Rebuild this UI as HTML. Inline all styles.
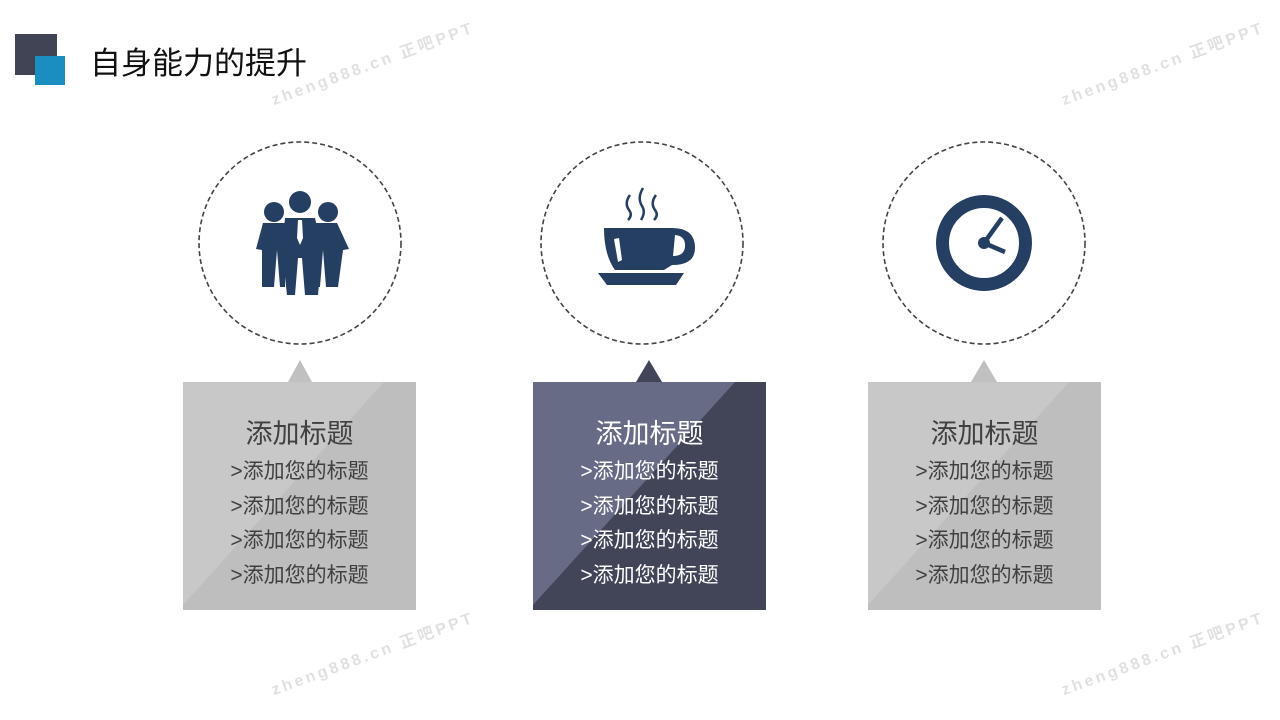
<!DOCTYPE html>
<html><head><meta charset="utf-8"><style>
body{margin:0;width:1280px;height:720px;background:#fff;position:relative;overflow:hidden;font-family:"Liberation Sans","Noto Sans CJK SC",sans-serif}
.t{position:absolute;font-size:31px;color:#111;left:90px;top:44px;line-height:40px}
.box{position:absolute;top:382px;width:233px;height:228px;text-align:center}
.txt{position:absolute;left:0;width:233px;top:0;text-align:center}
.txt .a{font-size:27px;line-height:34px;margin-top:35px;margin-bottom:4px}
.txt .b{font-size:21px;line-height:34.5px}
.wm{position:absolute;color:rgba(0,0,0,0.12);font-size:16px;font-weight:bold;letter-spacing:3px;transform:rotate(-20deg);white-space:nowrap}
</style></head><body>
<div style="position:absolute;left:15px;top:34px;width:42px;height:41px;background:#414455"></div>
<div style="position:absolute;left:35px;top:56px;width:30px;height:29px;background:#1A8EC0"></div>
<div class="t">自身能力的提升</div>
<div class="wm" style="left:265px;top:50px">zheng888.cn 正吧PPT</div>
<div class="wm" style="left:1055px;top:50px">zheng888.cn 正吧PPT</div>
<div class="wm" style="left:265px;top:640px">zheng888.cn 正吧PPT</div>
<div class="wm" style="left:1055px;top:640px">zheng888.cn 正吧PPT</div>

<svg width="1280" height="720" style="position:absolute;left:0;top:0">
<g fill="none" stroke="#444" stroke-width="1.6" stroke-dasharray="5,3">
<circle cx="300" cy="243" r="101"/><circle cx="642" cy="243" r="101"/><circle cx="984" cy="243" r="101"/>
</g>
<polygon points="300,360 288,382 312,382" fill="#C0C0C0"/>
<polygon points="649,360 636,382 662,382" fill="#424558"/>
<polygon points="984,360 971,382 997,382" fill="#C0C0C0"/>
<rect x="183" y="382" width="233" height="228" fill="#C8C8C8"/>
<polygon points="384,382 416,382 416,610 183,610 183,605" fill="#BEBEBE"/>
<rect x="533" y="382" width="233" height="228" fill="#676B86"/>
<polygon points="735,382 766,382 766,610 533,610 533,605" fill="#424558"/>
<rect x="868" y="382" width="233" height="228" fill="#C8C8C8"/>
<polygon points="1069,382 1101,382 1101,610 868,610 868,605" fill="#BEBEBE"/>
<g fill="#253F62">
<circle cx="274" cy="212" r="10"/><circle cx="328" cy="212" r="10"/><circle cx="300" cy="202" r="11"/>
<polygon points="263,223 285,223 285,287 280,287 277,250 274,287 262,287 262,250 256,249"/>
<polygon points="315,223 337,223 349,249 343,250 338,287 326,287 323,250 320,287 315,287"/>
<polygon points="285,218 315,218 322,250 318,295 305,295 302,258 298,258 295,295 287,295 282,250"/>
</g>
<polygon points="298,220 302,220 303,238 300,245 297,238" fill="#fff"/>
<g fill="#253F62">
<path d="M604,228 L672,228 Q695,228 695,248 Q695,265 672,265 L664,270 L615,270 Q604,255 604,228 Z"/>
<polygon points="598,273 684,273 676,285 607,285"/>
</g>
<path d="M675,235 Q686,236 685,247 Q684,256 673,256 Z" fill="#fff"/>
<polygon points="614,239 619,238 622,260 618,262" fill="#fff"/>
<g fill="none" stroke="#253F62" stroke-width="2.5">
<path d="M630,195 Q624,203 629,210 Q633,215 628,220"/>
<path d="M643,188 Q637,198 642,206 Q646,212 641,220"/>
<path d="M656,195 Q650,203 655,210 Q659,215 654,220"/>
</g>
<circle cx="984" cy="243" r="41.5" fill="none" stroke="#253F62" stroke-width="13"/>
<circle cx="984" cy="243" r="6" fill="#253F62"/>
<g stroke="#253F62" stroke-width="4.5">
<line x1="984" y1="243" x2="1002" y2="218"/><line x1="984" y1="243" x2="1005" y2="252"/>
</g>
</svg>

<div class="box" style="left:183px"><div class="txt" style="color:#404040"><div class="a">添加标题</div><div class="b">&gt;添加您的标题</div><div class="b">&gt;添加您的标题</div><div class="b">&gt;添加您的标题</div><div class="b">&gt;添加您的标题</div></div></div>
<div class="box" style="left:533px"><div class="txt" style="color:#fff"><div class="a">添加标题</div><div class="b">&gt;添加您的标题</div><div class="b">&gt;添加您的标题</div><div class="b">&gt;添加您的标题</div><div class="b">&gt;添加您的标题</div></div></div>
<div class="box" style="left:868px"><div class="txt" style="color:#404040"><div class="a">添加标题</div><div class="b">&gt;添加您的标题</div><div class="b">&gt;添加您的标题</div><div class="b">&gt;添加您的标题</div><div class="b">&gt;添加您的标题</div></div></div>
</body></html>
